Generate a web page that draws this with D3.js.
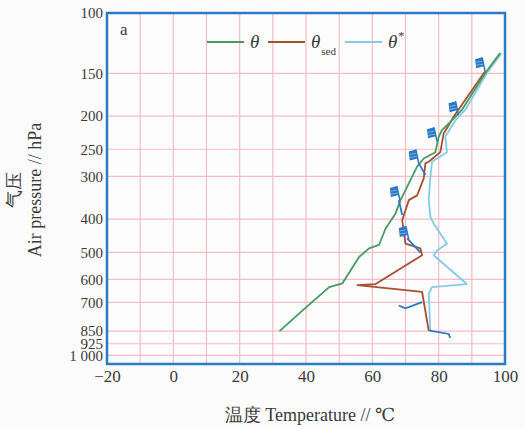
<!DOCTYPE html>
<html>
<head>
<meta charset="utf-8">
<script src="https://cdn.jsdelivr.net/npm/d3@7"></script>
<style>
  body { margin: 0; background: #fbfbfb; }
  svg text { font-family: "Liberation Serif", "DejaVu Serif", serif; fill: #3a3a3a; }
</style>
</head>
<body>
<div id="chart"></div>
<script>
// Druckniveaus (hPa) und Werte (°C)
const yTicks = [100, 150, 200, 250, 300, 400, 500, 600, 700, 850, 925, 1000];
const xTicks = [-20, 0, 20, 40, 60, 80, 100];

const thetaP = [850, 724, 632, 616, 516, 487, 476, 426, 385, 352, 281, 266, 255, 230, 220, 206, 192, 150, 131];
const thetaV = [32, 40, 47, 51, 56, 59, 62, 64, 67, 68.5, 73.5, 75.5, 79, 80, 81, 84, 87, 94, 98.5];

const sedP = [846, 653, 624, 619, 510, 487, 472, 403, 352, 341, 304, 275, 272, 255, 225, 213, 201, 148];
const sedV = [77, 75, 55.5, 61, 75, 74.5, 70, 69, 71, 73.5, 75.5, 76, 77, 80.5, 81.5, 83, 84.5, 94];

const starP = [846, 660, 632, 619, 510, 494, 472, 412, 394, 352, 301, 272, 255, 230, 206, 192, 150, 131];
const starV = [77.5, 77, 78, 88.5, 78.5, 79.5, 82.5, 78.5, 77.5, 77, 77.5, 78, 82.5, 82, 85, 88, 94.5, 99];

// Windfahnen
const barbP = [148, 199, 237, 275, 352, 460];
const barbV = [94, 86, 79.5, 74, 68.3, 71];

// kurze blaue Linienstücke
const windSegs = [
  [[275, 74], [297, 76]],
  [[352, 68], [389, 69]],
  [[455, 70.5], [500, 74.5]],
  [[716, 68], [729, 70], [699, 75]],
  [[846, 77], [866, 83], [889, 83.5]]
];

const width = 525, height = 429;
const svg = d3.select("#chart").append("svg")
  .attr("width", width).attr("height", height);

const x = d3.scaleLinear().domain([-20, 100]).range([107, 505]);
const y = d3.scaleLog().domain([100, 1060]).range([13, 364]);

const pLeft = x(-20), pRight = x(100), pTop = y(100), pBottom = y(1060);

svg.append("rect").attr("x", pLeft).attr("y", pTop)
  .attr("width", pRight - pLeft).attr("height", pBottom - pTop).attr("fill", "#fdfdfd");

// Gitterlinien
const gridColor = "#f5bcc6";
svg.append("g").selectAll("line")
  .data(d3.range(-10, 100, 10))
  .join("line")
  .attr("x1", d => x(d)).attr("x2", d => x(d))
  .attr("y1", pTop).attr("y2", pBottom)
  .attr("stroke", gridColor).attr("stroke-width", 1.2);

svg.append("g").selectAll("line")
  .data(yTicks.slice(1))
  .join("line")
  .attr("x1", pLeft).attr("x2", pRight)
  .attr("y1", d => y(d)).attr("y2", d => y(d))
  .attr("stroke", gridColor).attr("stroke-width", 1.2);

// Achsen
const yAxis = d3.axisLeft(y).tickValues(yTicks).tickSize(0).tickPadding(4)
  .tickFormat(d => d === 1000 ? "1 000" : d);
svg.append("g").attr("transform", `translate(${pLeft},0)`).call(yAxis)
  .call(g => g.select(".domain").remove())
  .selectAll("text").style("font-size", "15px").style("font-family", "Liberation Serif").style("fill", "#3a3a3a");

const xAxis = d3.axisBottom(x).tickValues(xTicks).tickSize(0).tickPadding(6)
  .tickFormat(d => d < 0 ? "\u2212" + Math.abs(d) : d);
svg.append("g").attr("transform", `translate(0,${pBottom})`).call(xAxis)
  .call(g => g.select(".domain").remove())
  .selectAll("text").style("font-size", "17px").style("font-family", "Liberation Serif").style("fill", "#3a3a3a");

// Linien
const line = d3.line().x(d => x(d[1])).y(d => y(d[0]));
const series = [
  { p: starP, v: starV, color: "#86cbe6" },
  { p: sedP, v: sedV, color: "#a5502f" },
  { p: thetaP, v: thetaV, color: "#469a63" }
];
series.forEach(s => {
  svg.append("path")
    .datum(s.p.map((p, i) => [p, s.v[i]]))
    .attr("d", line)
    .attr("fill", "none")
    .attr("stroke", s.color)
    .attr("stroke-width", 1.8)
    .attr("stroke-linejoin", "round");
});

const blue = "#2a78c6";
svg.append("g").selectAll("path")
  .data(windSegs)
  .join("path")
  .attr("d", line)
  .attr("fill", "none")
  .attr("stroke", blue)
  .attr("stroke-width", 1.8);

// Windfahnen zeichnen
const barbs = svg.append("g").selectAll("g")
  .data(barbP.map((p, i) => [p, barbV[i]]))
  .join("g")
  .attr("transform", d => `translate(${x(d[1])},${y(d[0])})`);
barbs.append("line")
  .attr("x1", 0).attr("y1", 0).attr("x2", -3).attr("y2", -14)
  .attr("stroke", blue).attr("stroke-width", 1.5);
barbs.append("path")
  .attr("d", "M-3,-14 L-10,-12 L-9,-3 L-1,-5 Z")
  .attr("fill", blue);
barbs.append("path")
  .attr("d", "M-9,-9 L-3,-10 M-9,-6 L-2,-7")
  .attr("stroke", "#9cc8ee").attr("stroke-width", 0.7);

// Rahmen
svg.append("rect").attr("x", pLeft).attr("y", pTop)
  .attr("width", pRight - pLeft).attr("height", pBottom - pTop)
  .attr("fill", "none").attr("stroke", "#2a7bc4").attr("stroke-width", 2.5);

// Panel-Buchstabe
svg.append("text").attr("x", 120).attr("y", 35).text("a").style("font-size", "17px");

// Legende
const legend = [
  { x1: 207, color: "#469a63", label: "θ", sub: "" },
  { x1: 268, color: "#a5502f", label: "θ", sub: "sed" },
  { x1: 345, color: "#86cbe6", label: "θ", sub: "*" }
];
const lg = svg.append("g").selectAll("g").data(legend).join("g");
lg.append("line")
  .attr("x1", d => d.x1).attr("x2", d => d.x1 + 37)
  .attr("y1", 42).attr("y2", 42)
  .attr("stroke", d => d.color).attr("stroke-width", 1.8);
const lt = lg.append("text")
  .attr("x", d => d.x1 + 43).attr("y", 48)
  .style("font-size", "19px");
lt.append("tspan").style("font-style", "italic").text(d => d.label);
lt.append("tspan")
  .attr("dy", d => d.sub === "*" ? -8 : 7)
  .attr("dx", 1)
  .style("font-size", d => d.sub === "*" ? "12px" : "11px")
  .text(d => d.sub);

// Achsentitel
svg.append("text")
  .attr("x", 310).attr("y", 421)
  .attr("text-anchor", "middle")
  .style("font-size", "18px")
  .text("温度 Temperature // ℃");

svg.append("text")
  .attr("transform", "translate(20,190) rotate(-90)")
  .attr("text-anchor", "middle")
  .style("font-size", "18px")
  .text("气压");
svg.append("text")
  .attr("transform", "translate(41,190) rotate(-90)")
  .attr("text-anchor", "middle")
  .style("font-size", "18px")
  .text("Air pressure // hPa");
</script>
</body>
</html>
